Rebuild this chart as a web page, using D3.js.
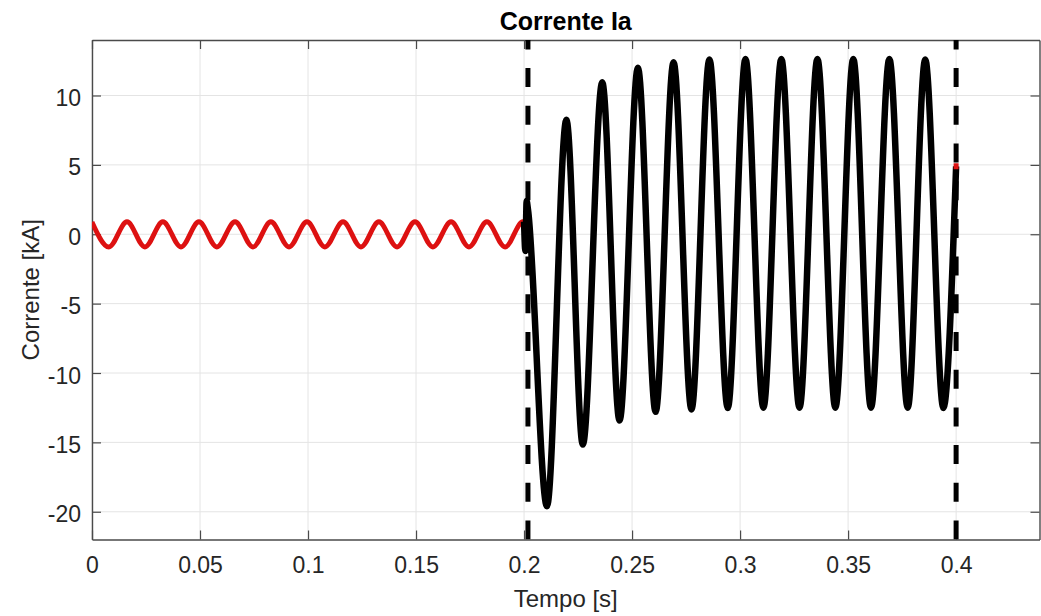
<!DOCTYPE html>
<html>
<head>
<meta charset="utf-8">
<script src="https://cdn.jsdelivr.net/npm/d3@7"></script>
<style>
  body { margin: 0; background: #fff; }
  text { font-family: "Liberation Sans", Arial, Helvetica, sans-serif; }
</style>
</head>
<body>
<svg id="chart" width="1041" height="616"></svg>
<script>
// ---- data ----
const titleText = "Corrente Ia";
const xLabelText = "Tempo [s]";
const yLabelText = "Corrente [kA]";

const xTicks = [0, 0.05, 0.1, 0.15, 0.2, 0.25, 0.3, 0.35, 0.4];
const xTickLabels = ["0", "0.05", "0.1", "0.15", "0.2", "0.25", "0.3", "0.35", "0.4"];
const yTicks = [-20, -15, -10, -5, 0, 5, 10];
const yTickLabels = ["-20", "-15", "-10", "-5", "0", "5", "10"];

// pre-fault current (red): extrema
const preTime = [0.0000, 0.0078, 0.0162, 0.0245, 0.0328, 0.0412, 0.0495, 0.0578, 0.0662, 0.0745,
                 0.0828, 0.0912, 0.0995, 0.1078, 0.1162, 0.1245, 0.1328, 0.1412, 0.1495, 0.1578,
                 0.1662, 0.1745, 0.1828, 0.1912, 0.1995, 0.2000];
const preCurrent = [0.89, -0.92, 0.90, -0.92, 0.90, -0.92, 0.90, -0.92, 0.90, -0.92,
                    0.90, -0.92, 0.90, -0.92, 0.90, -0.92, 0.90, -0.92, 0.90, -0.92,
                    0.90, -0.92, 0.90, -0.92, 0.90, 0.89];

// fault current (black): extrema
const faultTime = [0.2000, 0.2006, 0.2012, 0.2018, 0.2106, 0.2196, 0.2272, 0.2362, 0.2442, 0.2527,
                   0.2609, 0.2692, 0.2775, 0.2858, 0.2943, 0.3025, 0.3108, 0.3191, 0.3275, 0.3358,
                   0.3441, 0.3524, 0.3606, 0.3691, 0.3776, 0.3857, 0.3941, 0.4000];
const faultCurrent = [0.9, -1.2, 2.4, 1.8, -19.6, 8.25, -15.16, 10.95, -13.43, 12.0,
                      -12.8, 12.4, -12.63, 12.6, -12.52, 12.63, -12.5, 12.63, -12.5, 12.63,
                      -12.5, 12.63, -12.5, 12.63, -12.5, 12.6, -12.52, 4.9];

// post-fault point (red)
const postTime = [0.4];
const postCurrent = [4.9];

// event markers (dashed verticals)
const eventTimes = [0.2018, 0.4];

// ---- layout ----
const svg = d3.select("#chart");
const pL = 92, pR = 1039.5, pT = 40, pB = 539.5;
const x = d3.scaleLinear().domain([0, 0.4386]).range([pL, pR]);
const y = d3.scaleLinear().domain([-22, 14]).range([pB, pT]);

svg.append("defs").append("clipPath").attr("id", "clip")
  .append("rect").attr("x", pL).attr("y", pT)
  .attr("width", pR - pL).attr("height", pB - pT);

// grid
const grid = svg.append("g").attr("stroke", "#e4e4e4").attr("stroke-width", 1);
grid.selectAll("line.gx").data(xTicks).join("line").attr("class", "gx")
  .attr("x1", d => x(d)).attr("x2", d => x(d)).attr("y1", pT).attr("y2", pB);
grid.selectAll("line.gy").data(yTicks).join("line").attr("class", "gy")
  .attr("y1", d => y(d)).attr("y2", d => y(d)).attr("x1", pL).attr("x2", pR);

// axes (MATLAB-like box with inward ticks)
const axColor = "#4a4a4a";
const tickLen = 9;
const fmtX = (d, i) => xTickLabels[i];
const fmtY = (d, i) => yTickLabels[i];

const gB = svg.append("g").attr("transform", `translate(0,${pB})`)
  .call(d3.axisBottom(x).tickValues(xTicks).tickFormat(fmtX).tickSizeInner(-tickLen).tickSizeOuter(0).tickPadding(33));
const gT = svg.append("g").attr("transform", `translate(0,${pT})`)
  .call(d3.axisTop(x).tickValues(xTicks).tickFormat("").tickSizeInner(-tickLen).tickSizeOuter(0));
const gL = svg.append("g").attr("transform", `translate(${pL},0)`)
  .call(d3.axisLeft(y).tickValues(yTicks).tickFormat(fmtY).tickSizeInner(-tickLen).tickSizeOuter(0).tickPadding(11));
const gR = svg.append("g").attr("transform", `translate(${pR},0)`)
  .call(d3.axisRight(y).tickValues(yTicks).tickFormat("").tickSizeInner(-tickLen).tickSizeOuter(0));

[gB, gT, gL, gR].forEach(g => {
  g.select(".domain").attr("stroke", axColor).attr("stroke-width", 1.4);
  g.selectAll(".tick line").attr("stroke", axColor).attr("stroke-width", 1.2);
  g.selectAll(".tick text").attr("fill", "#262626").style("font-size", "23px")
    .style("font-family", '"Liberation Sans", Arial, sans-serif');
});
gB.selectAll(".tick text").attr("dy", "0").attr("y", 33);
gL.selectAll(".tick text").attr("dy", "10px");

// series
const plot = svg.append("g").attr("clip-path", "url(#clip)");
const line = d3.line().x(d => x(d[0])).y(d => y(d[1])).curve(d3.curveMonotoneX);

const preData = preTime.map((t, i) => [t, preCurrent[i]]);
const faultData = faultTime.map((t, i) => [t, faultCurrent[i]]);
const postData = postTime.map((t, i) => [t, postCurrent[i]]);

plot.append("path").datum(preData).attr("d", line)
  .attr("fill", "none").attr("stroke", "#dd1111").attr("stroke-width", 4.8)
  .attr("stroke-linejoin", "round");

plot.append("path").datum(faultData).attr("d", line)
  .attr("fill", "none").attr("stroke", "#000").attr("stroke-width", 6.5)
  .attr("stroke-linejoin", "round");

// dashed event lines
plot.selectAll("line.evt").data(eventTimes).join("line").attr("class", "evt")
  .attr("x1", d => x(d)).attr("x2", d => x(d))
  .attr("y1", pB).attr("y2", pT)
  .attr("stroke", "#000").attr("stroke-width", 5)
  .attr("stroke-dasharray", "19,18.7");

// post-fault red point
plot.selectAll("rect.post").data(postData).join("rect").attr("class", "post")
  .attr("x", d => x(d[0]) - 2.5).attr("y", d => y(d[1]) - 3)
  .attr("width", 5).attr("height", 6).attr("fill", "#dd1111");

// texts
svg.append("text").attr("x", (pL + pR) / 2).attr("y", 30)
  .attr("text-anchor", "middle").attr("font-weight", "bold")
  .style("font-size", "25px").attr("fill", "#000").text(titleText);

svg.append("text").attr("x", (pL + pR) / 2).attr("y", 607)
  .attr("text-anchor", "middle").style("font-size", "24px").attr("fill", "#262626").text(xLabelText);

svg.append("text").attr("transform", `translate(39,${(pT + pB) / 2}) rotate(-90)`)
  .attr("text-anchor", "middle").style("font-size", "24px").attr("fill", "#262626").text(yLabelText);
</script>
</body>
</html>
